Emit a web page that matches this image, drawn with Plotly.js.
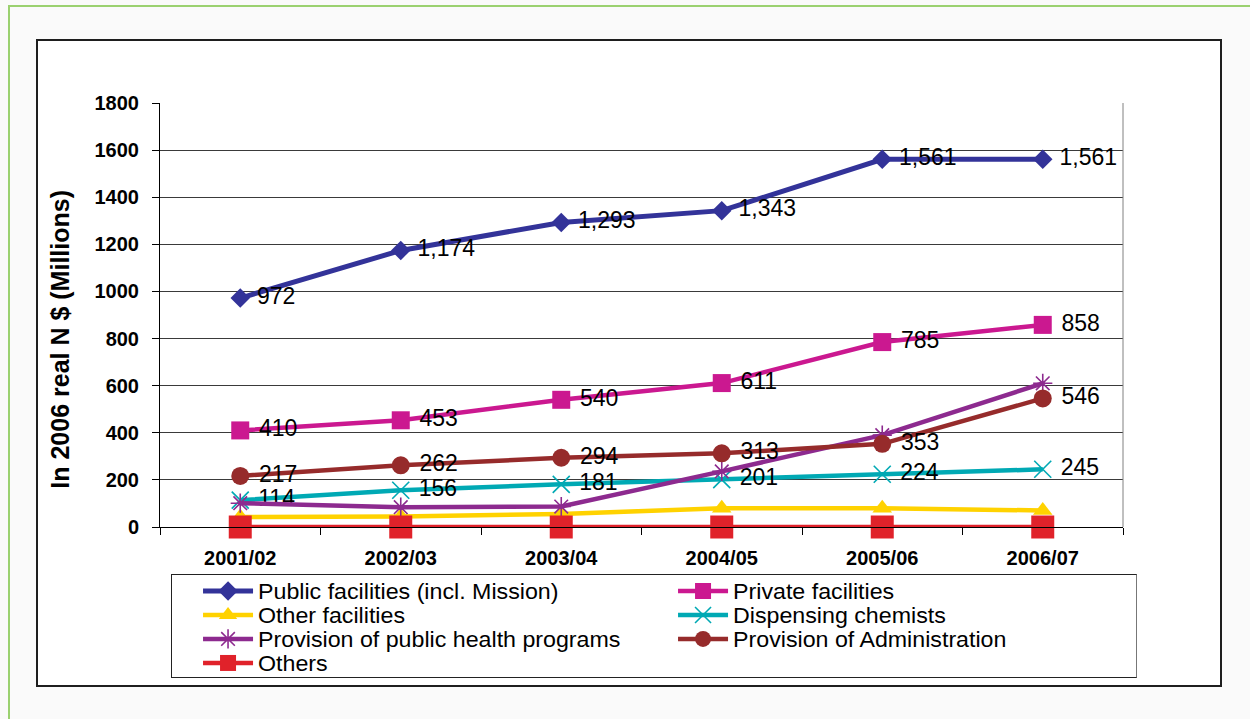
<!DOCTYPE html>
<html>
<head>
<meta charset="utf-8">
<script src="https://cdn.plot.ly/plotly-3.0.1.min.js"></script>
<style>
html,body{margin:0;padding:0;background:#fafafa;width:1250px;height:719px;overflow:hidden;}
#frame{position:absolute;left:8px;top:5px;width:1300px;height:800px;border-left:2px solid #9BD170;border-top:2px solid #9BD170;}
#box{position:absolute;left:36px;top:39px;width:1182px;height:644px;background:#fff;border:2px solid #1e1e1e;}
#legbox{position:absolute;left:171px;top:574px;width:964px;height:102px;border:1px solid #222;border-right-color:#777;}
#chart{position:absolute;left:0;top:0;width:1250px;height:719px;}
.legendtext{font-size:21.5px !important;transform-box:fill-box;transform-origin:left center;transform:translateY(1.3px) scaleX(1.08);}
</style>
</head>
<body>
<div id="frame"></div>
<div id="box"></div>
<div id="legbox"></div>
<div id="chart"></div>
<script>
const categories = ['2001/02', '2002/03', '2003/04', '2004/05', '2005/06', '2006/07'];
const publicFacilities = [972, 1174, 1293, 1343, 1561, 1561];
const privateFacilities = [410, 453, 540, 611, 785, 858];
const otherFacilities = [42, 45, 55, 80, 80, 70];
const dispensingChemists = [114, 156, 181, 201, 224, 245];
const publicHealthPrograms = [101, 84, 87, 236, 390, 610];
const administration = [217, 262, 294, 313, 353, 546];
const others = [0, 0, 0, 0, 0, 0];
const yTicks = [0, 200, 400, 600, 800, 1000, 1200, 1400, 1600, 1800];
const yTitle = 'In 2006 real N $ (Millions)';

const labelFont = {family: 'Arial, "Liberation Sans", sans-serif', size: 23, color: '#000'};

function series(name, y, color, symbol, size, labelled, open, lw) {
  const t = {
    type: 'scatter',
    name: name,
    x: categories,
    y: y,
    mode: labelled ? 'lines+markers+text' : 'lines+markers',
    line: {color: color, width: lw || 4.5},
    marker: {symbol: symbol, size: size, color: color,
             line: {width: open ? 1.6 : 0, color: color}},
    cliponaxis: false,
    hoverinfo: 'x+y+name'
  };
  if (labelled) {
    t.texttemplate = '\u00a0%{y:,}';
    t.textposition = 'middle right';
    t.textfont = labelFont;
  }
  return t;
}

const data = [
  series('Public facilities (incl. Mission)', publicFacilities, '#333399', 'diamond', 15, true, false, 5),
  series('Private facilities', privateFacilities, '#CB1890', 'square', 18, true),
  series('Other facilities', otherFacilities, '#FFD200', 'triangle-up', 17, false),
  series('Dispensing chemists', dispensingChemists, '#00A9B4', 'x-thin-open', 17, true, true),
  series('Provision of public health programs', publicHealthPrograms, '#8D2A8F', 'asterisk-open', 16, false, true),
  series('Provision of Administration', administration, '#962B2B', 'circle', 18, true),
  series('Others', others, '#E0222A', 'square', 23, false)
];

const tickFont = {family: 'Arial, "Liberation Sans", sans-serif', size: 20, color: '#000', weight: 'bold'};

const layout = {
  width: 1250,
  height: 719,
  margin: {l: 160, r: 127, t: 103, b: 192, autoexpand: false},
  paper_bgcolor: 'rgba(0,0,0,0)',
  plot_bgcolor: 'rgba(0,0,0,0)',
  showlegend: true,
  font: {family: 'Arial, "Liberation Sans", sans-serif', color: '#000'},
  xaxis: {
    type: 'category',
    range: [-0.5, 5.5],
    tickson: 'boundaries',
    ticks: 'outside',
    ticklen: 7,
    tickcolor: '#000',
    tickwidth: 1,
    showline: true,
    linecolor: '#000',
    linewidth: 1,
    showgrid: false,
    zeroline: false,
    tickfont: tickFont,
    ticklabelstandoff: 13,
    fixedrange: true
  },
  yaxis: {
    range: [0, 1800],
    tickvals: yTicks,
    ticktext: yTicks.map(String),
    ticks: 'outside',
    ticklen: 7,
    tickcolor: '#000',
    showline: true,
    linecolor: '#000',
    linewidth: 1,
    showgrid: true,
    gridcolor: '#3a3a3a',
    gridwidth: 1,
    zeroline: false,
    tickfont: tickFont,
    ticklabelstandoff: 9,
    fixedrange: true
  },
  legend: {
    orientation: 'h',
    x: 0.0395,
    xanchor: 'left',
    y: -0.1108,
    yanchor: 'top',
    borderwidth: 0,
    bgcolor: 'rgba(0,0,0,0)',
    font: {family: 'Arial, "Liberation Sans", sans-serif', size: 16.15, color: '#000'},
    itemwidth: 50,
    entrywidth: 410,
    entrywidthmode: 'pixels',
    traceorder: 'normal',
    itemclick: false,
    itemdoubleclick: false
  },
  shapes: [
    {type: 'line', xref: 'paper', yref: 'paper', x0: 1, x1: 1, y0: 0, y1: 1,
     line: {color: '#808080', width: 1}}
  ],
  annotations: [
    {text: yTitle, xref: 'paper', yref: 'paper', x: 0, xshift: -100, y: 0.4417,
     xanchor: 'center', yanchor: 'middle', textangle: -90, showarrow: false,
     font: {family: 'Arial, "Liberation Sans", sans-serif', size: 25, color: '#000', weight: 'bold'}}
  ]
};

Plotly.newPlot('chart', data, layout, {displayModeBar: false, staticPlot: true});
</script>
</body>
</html>
